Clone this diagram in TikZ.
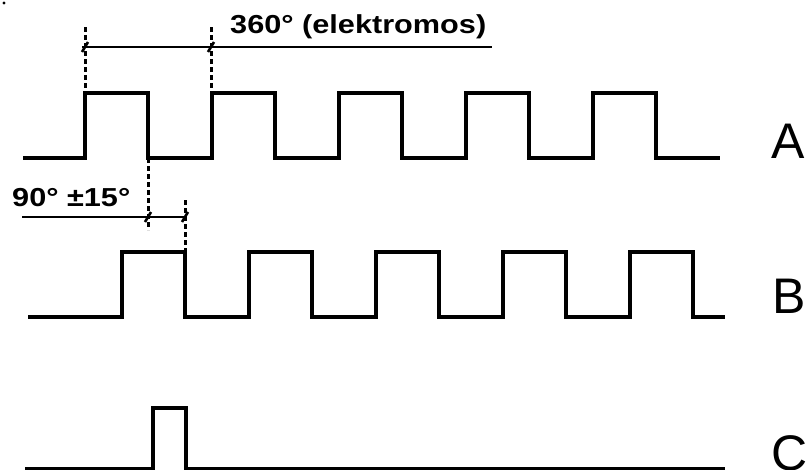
\documentclass[tikz,border=0pt]{standalone}
\usepackage{fontspec}
\setmainfont{Liberation Sans}
\usetikzlibrary{positioning, calc, arrows.meta}

\begin{document}
\begin{tikzpicture}[x=1pt, y=-1pt,
    signal/.style={line width=4pt, line join=miter},
    guide/.style={line width=3pt, dash pattern=on 5pt off 3pt},
    dimline/.style={line width=1.6pt},
    tickmark/.style={line width=2.6pt},
    chan/.style={font=\fontsize{50}{50}\selectfont, anchor=base west, inner sep=0pt},
    dimlabel/.style={font=\fontsize{26}{26}\selectfont\bfseries, anchor=base west, inner sep=0pt}]
    \useasboundingbox (0,0) rectangle (808,469);
    \fill (4,3) circle (1.6);

    % channels
    \draw[signal] (23,158) foreach \x in {85,212,339,466,593} {-- (\x,158) -- (\x,93) -- (\x+63,93) -- (\x+63,158)} -- (720,158);
    \draw[signal] (28,317) foreach \x in {122,249,376,503,630} {-- (\x,317) -- (\x,252) -- (\x+63,252) -- (\x+63,317)} -- (725,317);
    \draw[signal] (25,469) -- (153,469) -- (153,408) -- (186,408) -- (186,469) -- (725,469);

    \node[chan] (labA) at (771,158) {A};
    \node[chan] (labB) at (772,313) {B};
    \node[chan] (labC) at (771,470) {C};

    % 360 deg
    \coordinate (p1) at (85,47);
    \coordinate (p2) at (211,47);
    \coordinate (pend) at (492,47);
    \draw[guide] (85,27) -- (85,93);
    \draw[guide] (211,27) -- (211,93);
    \draw[dimline] ($(p1)+(-3,0)$) -- (pend);
    \foreach \p in {p1,p2}
        \draw[tickmark] ($(\p)+(-3,5)$) -- ($(\p)+(3,-5)$);
    \node[dimlabel] (full) at (230,33) {\scalebox{1.18}[1]{360° (elektromos)}};

    % 90 deg
    \coordinate (q0) at (22,217);
    \coordinate (q1) at (148,217);
    \coordinate (q2) at (185,217);
    \draw[guide] (148,158) -- (148,230);
    \draw[guide] (185,200) -- (185,252);
    \draw[dimline] (q0) -- (q2);
    \foreach \p in {q1,q2}
        \draw[tickmark] ($(\p)+(-3,5)$) -- ($(\p)+(3,-5)$);
    \node[dimlabel] (phase) at (12,206) {\scalebox{1.18}[1]{90° ±15°}};
\end{tikzpicture}
\end{document}
